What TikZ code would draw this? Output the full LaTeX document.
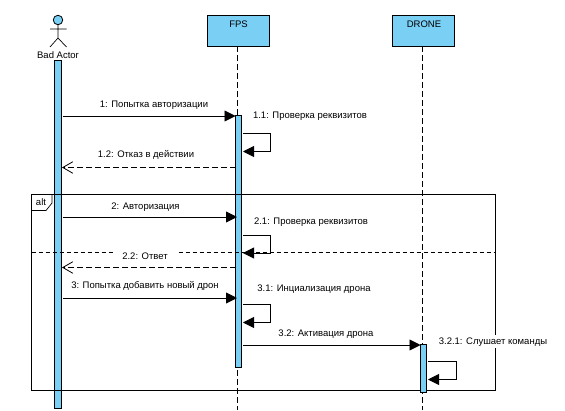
\documentclass[tikz,border=0pt]{standalone}
\usepackage{fontspec}
\setmainfont{Liberation Sans}
\usetikzlibrary{arrows.meta,positioning}
\definecolor{barblue}{HTML}{7ACFF5}
\tikzset{
  object/.style={draw=black,fill=barblue,line width=0.9pt,minimum width=62pt,minimum height=31pt,inner sep=0pt},
  actbar/.style={draw=black,fill=barblue,line width=0.9pt,minimum width=6.5pt,inner sep=0pt},
  lifeline/.style={draw=black,line width=0.8pt,dash pattern=on 6pt off 3pt},
  call/.style={draw=black,line width=0.9pt,-{Triangle[length=11pt,width=11pt]}},
  reply/.style={draw=black,line width=0.8pt,dash pattern=on 6pt off 3pt,-{Straight Barb[length=10pt,width=11.5pt,line width=0.8pt]}},
  msg/.style={font=\fontsize{9.5}{11}\selectfont,inner sep=0pt,anchor=center,text height=6.5pt,text depth=0pt,yshift=-0.7pt},
  msgbg/.style={msg,fill=white,inner xsep=2pt,inner ysep=3pt}
}
\begin{document}
\begin{tikzpicture}[x=1pt,y=-1pt]
    \useasboundingbox (0,0) rectangle (565,410);
    % objects
    \node[object] (fps) at (238,30.5) {};
    \node[object] (drone) at (423,30.5) {};
    \node[msg] at (238.5,23.5) {FPS};
    \node[msg] at (424,23.5) {DRONE};
    % actor
    \node[circle,draw=black,fill=barblue,line width=0.8pt,minimum size=9.5pt,inner sep=0pt] (head) at (58,20) {};
    \coordinate (hip) at (58,38);
    \coordinate (armL) at (50,29);
    \coordinate (armR) at (66.5,29);
    \coordinate (footL) at (50,47);
    \coordinate (footR) at (66.5,47);
    \draw[line width=0.7pt] (head) -- (hip) (armL) -- (armR) (footL) -- (hip) -- (footR);
    \node[msg] (actor) at (58,54.5) {Bad Actor};
    % lifelines
    \coordinate (fpsend) at (237.5,410);
    \coordinate (droneend) at (422.5,410);
    \draw[lifeline] (237.5,46) -- (fpsend);
    \draw[lifeline] (422.5,46) -- (droneend);
    % bars
    \node[actbar,minimum height=347.5pt] (actbar) at (58,234.5) {};
    \node[actbar,minimum height=251.5pt,minimum width=6pt] (fpsbar) at (238.5,241.5) {};
    % frame
    \node[draw=black,line width=0.8pt,minimum width=464pt,minimum height=195.5pt,inner sep=0pt] (frame) at (263.5,292.5) {};
    \coordinate (tagA) at (52,194.5);
    \coordinate (tagB) at (52,203);
    \coordinate (tagC) at (46,210.5);
    \coordinate (tagD) at (31.5,210.5);
    \draw[line width=0.7pt] (tagA) -- (tagB) -- (tagC) -- (tagD);
    \node[msg] (alt) at (41,201.5) {alt};
    \coordinate (sepL) at (31.5,252.5);
    \coordinate (sepR) at (495.5,252.5);
    \draw[line width=0.8pt,dash pattern=on 4.5pt off 2.5pt] (sepL) -- (sepR);
    \node[actbar,minimum height=48pt,minimum width=6pt] (dronebar) at (423.5,368) {};
    % message ends
    \coordinate (a1) at (62.5,116);
    \coordinate (f1) at (235.5,116);
    \coordinate (l11) at (243,133.5);
    \coordinate (e11) at (243,151.5);
    \coordinate (f12) at (236,167.5);
    \coordinate (a12) at (62,167.5);
    \coordinate (a2) at (62.5,217);
    \coordinate (f2) at (237,217);
    \coordinate (l21) at (243,235.5);
    \coordinate (e21) at (243,253);
    \coordinate (f22) at (236,267.5);
    \coordinate (a22) at (62,267.5);
    \coordinate (a3) at (62.5,298);
    \coordinate (f3) at (237,298);
    \coordinate (l31) at (243,304.5);
    \coordinate (e31) at (243,322.5);
    \coordinate (f32) at (243,345);
    \coordinate (d32) at (420.5,345);
    \coordinate (l321) at (428,361.5);
    \coordinate (e321) at (428,379.5);
    % messages
    \draw[call] (a1) -- (f1);
    \draw[call] (l11) -- ++(27,0) |- (e11);
    \draw[reply] (f12) -- (a12);
    \draw[call] (a2) -- (f2);
    \draw[call] (l21) -- ++(27,0) |- (e21);
    \draw[reply] (f22) -- (a22);
    \draw[call] (a3) -- (f3);
    \draw[call] (l31) -- ++(27,0) |- (e31);
    \draw[call] (f32) -- (d32);
    \draw[call] (l321) -- ++(28,0) |- (e321);
    % labels
    \node[msg] (t1) at (154,103.5) {1: Попытка авторизации};
    \node[msg] (t11) at (310,115) {1.1: Проверка реквизитов};
    \node[msg] (t12) at (146,153.5) {1.2: Отказ в действии};
    \node[msg] (t2) at (145.5,205.5) {2: Авторизация};
    \node[msg] (t21) at (311,220.5) {2.1: Проверка реквизитов};
    \node[msgbg,inner xsep=9.5pt] (t22) at (145,255.5) {2.2: Ответ};
    \node[msgbg,inner xsep=8pt,inner ysep=3.5pt] (t3) at (145,284.5) {3: Попытка добавить новый дрон};
    \node[msg] (t31) at (314,287.5) {3.1: Инциализация дрона};
    \node[msg] (t32) at (326,333) {3.2: Активация дрона};
    \node[msgbg] (t321) at (493,341) {3.2.1: Слушает команды};
\end{tikzpicture}
\end{document}
